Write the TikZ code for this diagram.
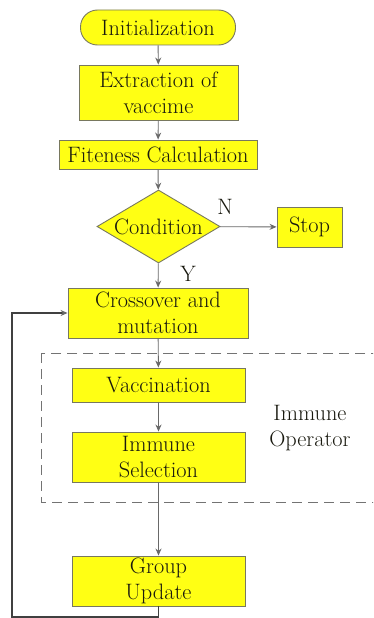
\documentclass[tikz,border=0pt]{standalone}
\usetikzlibrary{shapes.geometric,arrows.meta}
\definecolor{boxyellow}{RGB}{255,255,20}
\definecolor{boxedge}{RGB}{120,120,95}
\definecolor{linegray}{RGB}{105,105,105}
\definecolor{txt}{RGB}{25,25,15}
\tikzset{
  txtfont/.style={font=\fontsize{22.3}{26}\selectfont, text=txt},
  procbox/.style={draw=boxedge, fill=boxyellow, line width=0.9pt, inner sep=0pt, align=center, txtfont},
  pill/.style={procbox, rounded corners=17pt},
  decide/.style={procbox, diamond, aspect=1.68},
  flow/.style={draw=linegray, line width=0.9pt, -{Stealth[length=7pt,width=6pt]}},
  loopline/.style={draw=black!75, line width=1.1pt, -{Stealth[length=7pt,width=6pt,color=linegray]}},
  label/.style={txtfont, inner sep=0pt}
}
\begin{document}
\begin{tikzpicture}[x=1pt,y=-1pt]
\useasboundingbox (0,0) rectangle (373,618);
\clip (0,0) rectangle (373,618);
\fill[white] (0,0) rectangle (373,618);
% dashed region
\draw[draw=black!55, line width=1pt, dash pattern=on 10pt off 6pt] (41,353) rectangle (390,502);
\node[label, align=center] (imop) at (310,428) {Immune\\Operator};
% nodes
\node[pill, minimum width=155pt, minimum height=35pt] (init) at (158,27.5) {Initialization};
\node[procbox, minimum width=159pt, minimum height=55pt] (extr) at (158.5,92.5) {Extraction of\\vaccime};
\node[procbox, minimum width=198pt, minimum height=29pt] (fit) at (158,154.5) {Fiteness Calculation};
\node[decide, minimum width=123pt, minimum height=73pt] (cond) at (158.5,226.5) {Condition};
\node[procbox, minimum width=65pt, minimum height=40pt] (stop) at (309.5,227) {Stop};
\node[procbox, minimum width=180pt, minimum height=50pt] (cross) at (158,313) {Crossover and\\mutation};
\node[procbox, minimum width=173pt, minimum height=34pt] (vacc) at (158.5,385) {Vaccination};
\node[procbox, minimum width=173pt, minimum height=50pt] (isel) at (158.5,457) {Immune\\Selection};
\node[procbox, minimum width=173pt, minimum height=50pt] (group) at (158.5,581) {Group\\Update};
\node[label] (nlab) at (225,207) {N};
\node[label] (ylab) at (188,274) {Y};
% connectors
\draw[flow] (init) -- (extr);
\draw[flow] (extr) -- (fit);
\draw[flow] (fit) -- (cond);
\draw[flow] (cond) -- (stop);
\draw[flow] (cond) -- (cross);
\draw[flow] (cross) -- (vacc);
\draw[flow] (vacc) -- (isel);
\draw[flow] (isel) -- (group);
\coordinate (lb) at (12,617);
\draw[loopline] (group.south) |- (lb) |- (cross.west);
\end{tikzpicture}
\end{document}
